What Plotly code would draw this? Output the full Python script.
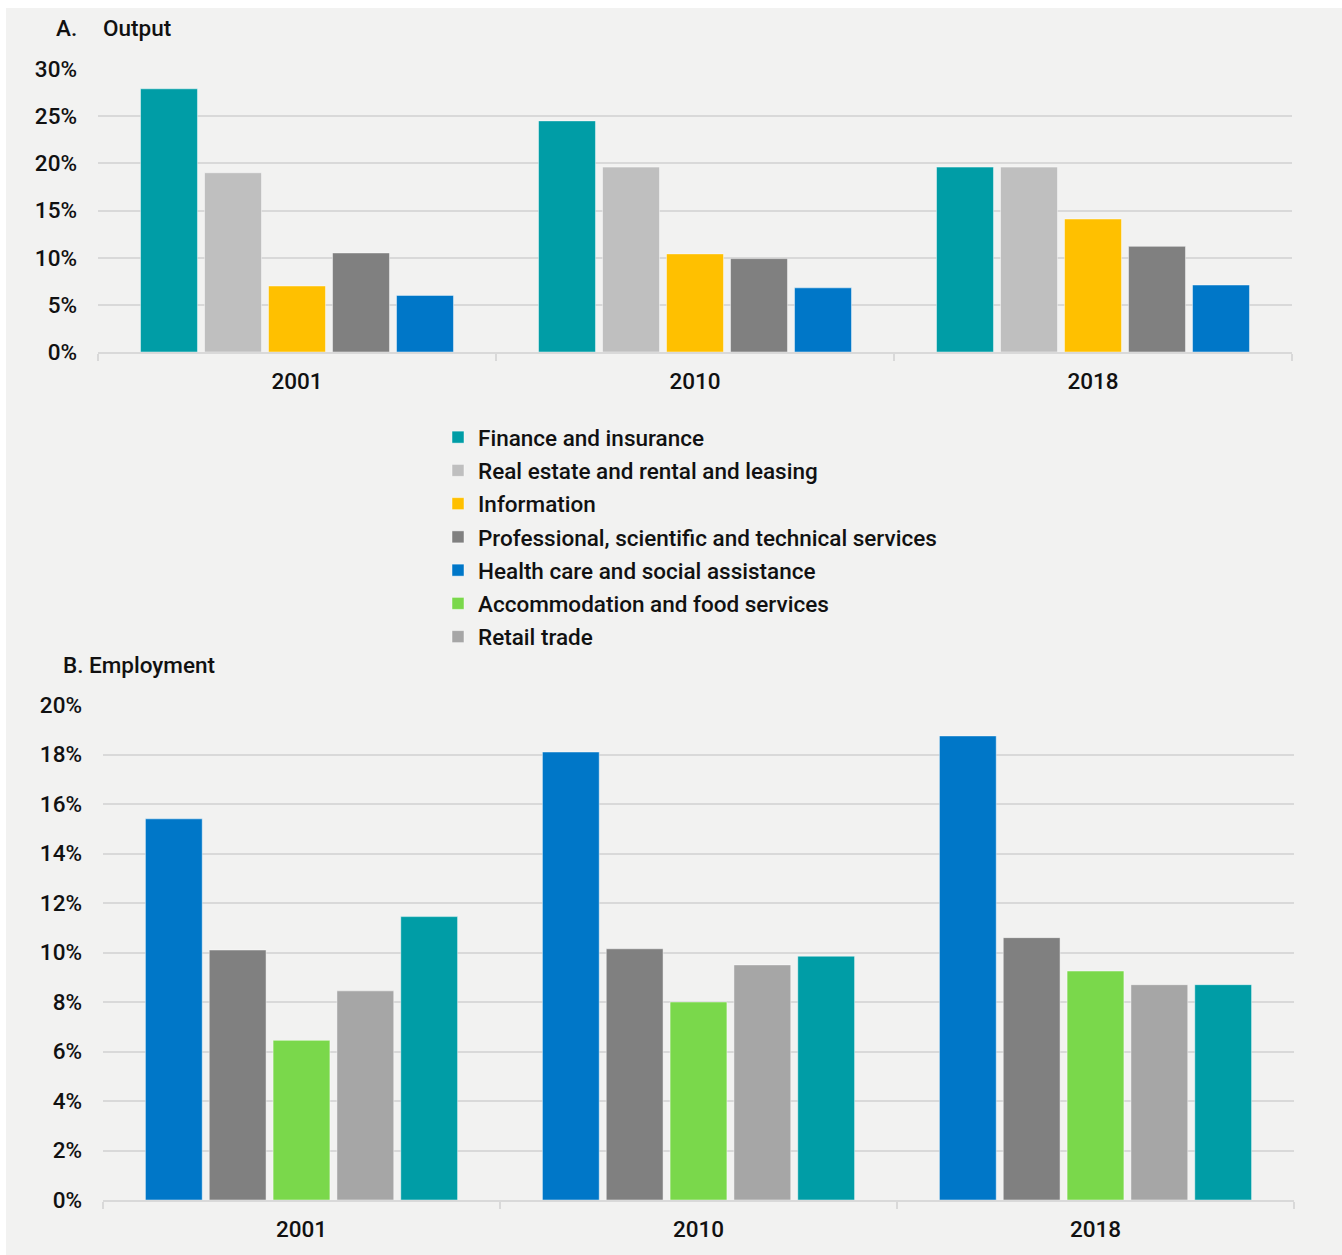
import plotly.graph_objects as go

W, H = 1342, 1255
years = ["2001", "2010", "2018"]

# Panel A: Output shares (%)
out_finance = [27.9, 24.5, 19.6]
out_realestate = [19.0, 19.6, 19.6]
out_information = [7.0, 10.4, 14.1]
out_professional = [10.5, 9.9, 11.2]
out_health = [6.0, 6.8, 7.1]

# Panel B: Employment shares (%)
emp_health = [15.4, 18.1, 18.75]
emp_professional = [10.1, 10.15, 10.6]
emp_accommodation = [6.45, 8.0, 9.25]
emp_retail = [8.45, 9.5, 8.7]
emp_finance = [11.45, 9.85, 8.7]

names = {
    "fin": "Finance and insurance",
    "re": "Real estate and rental and leasing",
    "info": "Information",
    "prof": "Professional, scientific and technical services",
    "health": "Health care and social assistance",
    "acc": "Accommodation and food services",
    "ret": "Retail trade",
}
colors = {
    "fin": "#009DA6",
    "re": "#BFBFBF",
    "info": "#FFC000",
    "prof": "#808080",
    "health": "#0077C8",
    "acc": "#7AD84B",
    "ret": "#A6A6A6",
}

FONT = "Roboto"
FS = 22.5
fig = go.Figure()

def add_bar(key, vals, xa, ya, show):
    fig.add_trace(go.Bar(
        x=years, y=vals, name=names[key], legendgroup=key, showlegend=show,
        marker=dict(color=colors[key], line=dict(color="rgba(255,255,255,0.45)", width=1)),
        xaxis=xa, yaxis=ya, hoverinfo="y+name",
    ))

add_bar("fin", out_finance, "x", "y", True)
add_bar("re", out_realestate, "x", "y", True)
add_bar("info", out_information, "x", "y", True)
add_bar("prof", out_professional, "x", "y", True)
add_bar("health", out_health, "x", "y", True)

add_bar("health", emp_health, "x2", "y2", False)
add_bar("prof", emp_professional, "x2", "y2", False)
add_bar("acc", emp_accommodation, "x2", "y2", True)
add_bar("ret", emp_retail, "x2", "y2", True)
add_bar("fin", emp_finance, "x2", "y2", False)

def px(v):
    return v / W

def py(v):
    return 1 - v / H

grid = "#D9D9D9"
tickfont = dict(family=FONT, size=FS, color="#111111", weight=500)

xcommon = dict(type="category", showgrid=False, showline=True, linecolor=grid, linewidth=2,
               ticks="outside", tickson="boundaries", ticklen=7, tickwidth=2, tickcolor=grid,
               tickfont=tickfont, ticklabelstandoff=8, fixedrange=True, automargin=False)
ycommon = dict(showgrid=True, gridcolor=grid, gridwidth=2, zeroline=False, showline=False,
               ticksuffix="%", tickfont=tickfont, ticklabelstandoff=20, fixedrange=True,
               automargin=False)

fig.update_layout(
    width=W, height=H,
    margin=dict(l=0, r=0, t=0, b=0, autoexpand=False),
    paper_bgcolor="white",
    plot_bgcolor="rgba(0,0,0,0)",
    barmode="group", bargap=0.196, bargroupgap=0.11,
    font=dict(family=FONT, size=FS, color="#111111"),
    xaxis=dict(domain=[px(98), px(1292)], anchor="y", **xcommon),
    yaxis=dict(domain=[py(352), py(69)], anchor="x", range=[0, 30], dtick=5, **ycommon),
    xaxis2=dict(domain=[px(103), px(1294)], anchor="y2", **xcommon),
    yaxis2=dict(domain=[py(1200), py(705)], anchor="x2", range=[0, 20], dtick=2, **ycommon),
    legend=dict(x=px(438), y=py(416), xanchor="left", yanchor="top",
                font=dict(family=FONT, size=FS, color="#111111", weight=500),
                traceorder="grouped", tracegroupgap=1, bgcolor="rgba(0,0,0,0)",
                itemclick=False, itemdoubleclick=False),
    showlegend=True,
    shapes=[dict(type="rect", xref="paper", yref="paper", x0=px(6), x1=1, y0=0, y1=py(8),
                 fillcolor="#F2F2F1", line=dict(width=0), layer="below")],
    annotations=[
        dict(text="A.", x=px(54), y=py(28), xref="paper", yref="paper", xanchor="left",
             yanchor="middle", showarrow=False, font=dict(family=FONT, size=FS, weight=500)),
        dict(text="Output", x=px(101), y=py(28), xref="paper", yref="paper", xanchor="left",
             yanchor="middle", showarrow=False, font=dict(family=FONT, size=FS, weight=500)),
        dict(text="B. Employment", x=px(61), y=py(665), xref="paper", yref="paper", xanchor="left",
             yanchor="middle", showarrow=False, font=dict(family=FONT, size=FS, weight=500)),
    ],
)

fig.write_html("out.html")
